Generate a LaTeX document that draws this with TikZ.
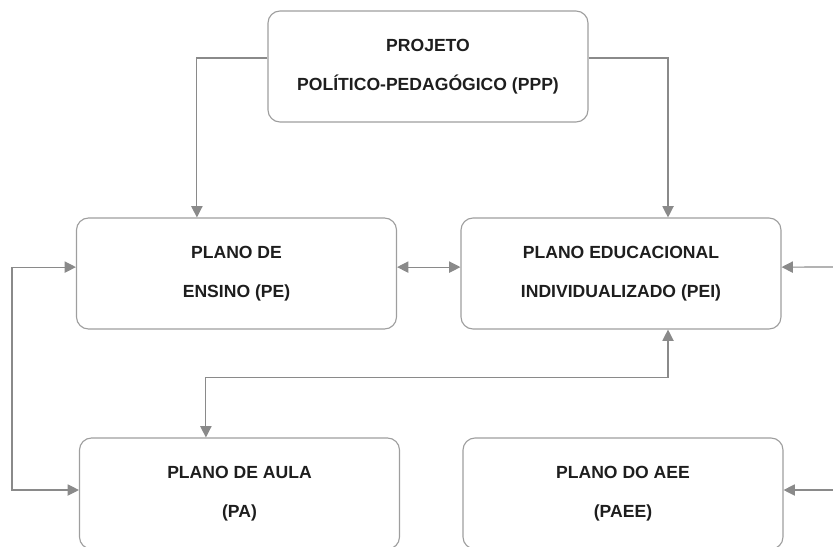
\documentclass[tikz,border=0pt]{standalone}
\usepackage{fontspec}
\setmainfont{Liberation Sans}
\usetikzlibrary{arrows.meta}
\definecolor{linegray}{HTML}{8A8A8A}
\definecolor{boxgray}{HTML}{9E9E9E}
\definecolor{textdark}{HTML}{1E1E1E}
\begin{document}
\begin{tikzpicture}[
  plan/.style={draw=boxgray, line width=0.8pt, rounded corners=0.3cm,
    minimum width=8cm, minimum height=2.775cm, align=center,
    text=textdark, font=\fontsize{12.5}{27.7}\selectfont\bfseries},
  conn/.style={draw=linegray, line width=0.8pt,
    arrows={-Triangle[length=0.28cm, width=0.28cm, fill=linegray]}},
  dconn/.style={conn, arrows={Triangle[length=0.28cm, width=0.28cm, fill=linegray]-Triangle[length=0.28cm, width=0.28cm, fill=linegray]}}
]
\useasboundingbox (0,0) rectangle (20.825,-13.65);

\node[plan] (ppp)  at (10.7,   -1.6625) {PROJETO\\POLÍTICO-PEDAGÓGICO (PPP)};
\node[plan] (pe)   at (5.9125, -6.8375) {PLANO DE\\ENSINO (PE)};
\node[plan] (pei)  at (15.525, -6.8375) {PLANO EDUCACIONAL\\INDIVIDUALIZADO (PEI)};
\node[plan] (pa)   at (5.9875, -12.3375) {PLANO DE AULA\\(PA)};
\node[plan] (paee) at (15.575, -12.3375) {PLANO DO AEE\\(PAEE)};

\coordinate (inpei)  at (20.825, -6.675);
\coordinate (inpaee) at (20.825, -12.25);

%%%%%%%%%%%%%%%%%%%%%%%%%%%%%%%%%%%%%%%%

\draw[conn] ([yshift=0.2125cm]ppp.west) -| ([xshift=-0.99cm]pe.north);
\draw[conn] ([yshift=0.2125cm]ppp.east) -| ([xshift=1.175cm]pei.north);
\draw[dconn] ([yshift=0.16cm]pe.east) -- ([yshift=0.16cm]pei.west);
\draw[dconn] ([yshift=0.16cm]pe.west) -- ++(-1.6, 0) |- ([yshift=0.0875cm]pa.west);
\draw[dconn] ([xshift=1.175cm]pei.south) -- ++(0, -1.2) -| ([xshift=-0.84cm]pa.north);
\draw[conn] (inpei) -- ([yshift=0.16cm]pei.east);
\draw[conn] (inpaee) -- ([yshift=0.0875cm]paee.east);
\end{tikzpicture}
\end{document}
